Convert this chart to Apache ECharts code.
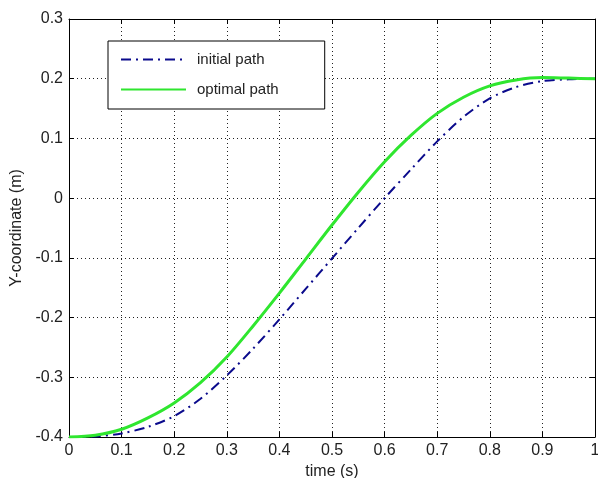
<!DOCTYPE html>
<html>
<head>
<meta charset="utf-8">
<script src="https://cdn.jsdelivr.net/npm/echarts@6/dist/echarts.min.js"></script>
<style>html,body{margin:0;padding:0;background:#fff;}#c{width:598px;height:478px;}</style>
</head>
<body>
<div id="c"></div>
<script>
var timeValues = [0, 0.05, 0.1, 0.15, 0.2, 0.25, 0.3, 0.35, 0.4, 0.45, 0.5, 0.55, 0.6, 0.65, 0.7, 0.75, 0.8, 0.85, 0.9, 0.95, 1.0];
var initialPath = [-0.4, -0.399, -0.394, -0.383, -0.365, -0.336, -0.297, -0.252, -0.203, -0.152, -0.101, -0.050, 0.000, 0.048, 0.095, 0.136, 0.167, 0.186, 0.196, 0.199, 0.200];
var optimalPath = [-0.4, -0.397, -0.387, -0.368, -0.343, -0.309, -0.266, -0.214, -0.159, -0.102, -0.045, 0.010, 0.061, 0.105, 0.142, 0.169, 0.188, 0.198, 0.202, 0.201, 0.200];
var seriesNames = ['initial path', 'optimal path'];
var xAxisName = 'time (s)';
var yAxisName = 'Y-coordinate (m)';

function pairs(xs, ys) { return xs.map(function (x, i) { return [x, ys[i]]; }); }

var font = 'Liberation Sans, Arial, sans-serif';
var chart = echarts.init(document.getElementById('c'), null, { renderer: 'canvas' });
var tickCommon = { show: true, inside: true, length: 5, lineStyle: { color: '#000', width: 1 } };
var lineCommon = { show: true, onZero: false, lineStyle: { color: '#000', width: 1 } };
var gridLine = { show: true, lineStyle: { color: '#222', width: 1, type: [1, 3] } };

chart.setOption({
  animation: false,
  backgroundColor: '#fff',
  grid: { left: 69, top: 19, right: 3, bottom: 41, containLabel: false, outerBoundsMode: 'none' },
  legend: {
    orient: 'vertical',
    left: 108, top: 41,
    padding: [11, 46, 12, 12],
    itemWidth: 65, itemHeight: 14, itemGap: 15,
    backgroundColor: '#fff',
    borderColor: '#000', borderWidth: 1, borderRadius: 0,
    itemStyle: { opacity: 0 },
    textStyle: { fontFamily: font, fontSize: 15, color: '#222', padding: [0, 0, 0, 6] },
    data: seriesNames
  },
  xAxis: [{
    type: 'value', min: 0, max: 1, interval: 0.1,
    name: xAxisName, nameLocation: 'middle', nameGap: 26,
    nameTextStyle: { fontFamily: font, fontSize: 16, color: '#222' },
    axisLine: lineCommon, axisTick: tickCommon,
    axisLabel: { margin: 6, fontFamily: font, fontSize: 16, color: '#222' },
    splitLine: gridLine
  }, {
    type: 'value', min: 0, max: 1, interval: 0.1, position: 'top',
    axisLine: lineCommon, axisTick: tickCommon, axisLabel: { show: false }, splitLine: { show: false }
  }],
  yAxis: [{
    type: 'value', min: -0.4, max: 0.3, interval: 0.1,
    name: yAxisName, nameLocation: 'middle', nameGap: 41, nameRotate: 90,
    nameTextStyle: { fontFamily: font, fontSize: 16, color: '#222' },
    axisLine: lineCommon, axisTick: tickCommon,
    axisLabel: { margin: 6, fontFamily: font, fontSize: 16, color: '#222',
      formatter: function (v) { var r = Math.round(v * 10) / 10; return r === 0 ? '0' : r.toFixed(1); } },
    splitLine: gridLine
  }, {
    type: 'value', min: -0.4, max: 0.3, interval: 0.1, position: 'right',
    axisLine: lineCommon, axisTick: tickCommon, axisLabel: { show: false }, splitLine: { show: false }
  }],
  series: [{
    name: seriesNames[0], type: 'line', smooth: 0.3, showSymbol: false, symbol: 'none',
    data: pairs(timeValues, initialPath),
    lineStyle: { color: '#0a0a8c', width: 2, type: [10, 5, 2, 5] },
    itemStyle: { color: '#0a0a8c' }
  }, {
    name: seriesNames[1], type: 'line', smooth: 0.3, showSymbol: false, symbol: 'none',
    data: pairs(timeValues, optimalPath),
    lineStyle: { color: '#2fe62f', width: 3 },
    itemStyle: { color: '#2fe62f' }
  }]
});
</script>
</body>
</html>
